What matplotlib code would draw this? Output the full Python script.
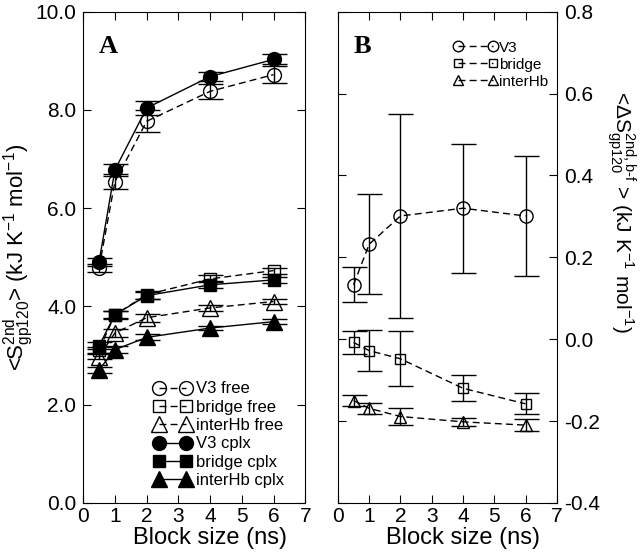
import matplotlib.pyplot as plt
from matplotlib.ticker import FormatStrFormatter

plt.rcParams['font.family'] = ['Liberation Sans', 'DejaVu Sans']
plt.rcParams['mathtext.fontset'] = 'custom'
plt.rcParams['mathtext.rm'] = 'Liberation Sans'
plt.rcParams['mathtext.it'] = 'Liberation Sans:italic'

# block sizes (ns)
block = [0.5, 1, 2, 4, 6]

# panel A: entropies (kJ K-1 mol-1)
v3_free = [4.79, 6.54, 7.77, 8.38, 8.72]
v3_free_err = [0.08, 0.15, 0.22, 0.15, 0.17]
bridge_free = [3.12, 3.83, 4.24, 4.56, 4.73]
bridge_free_err = [0.06, 0.08, 0.08, 0.07, 0.06]
inter_free = [2.98, 3.46, 3.77, 3.97, 4.10]
inter_free_err = [0.06, 0.08, 0.08, 0.06, 0.06]
v3_cplx = [4.91, 6.78, 8.04, 8.68, 9.03]
v3_cplx_err = [0.08, 0.12, 0.14, 0.10, 0.10]
bridge_cplx = [3.20, 3.83, 4.22, 4.44, 4.54]
bridge_cplx_err = [0.07, 0.07, 0.07, 0.07, 0.06]
inter_cplx = [2.71, 3.12, 3.37, 3.56, 3.69]
inter_cplx_err = [0.06, 0.07, 0.06, 0.05, 0.05]

# panel B: bound minus free differences
v3_diff = [0.133, 0.232, 0.301, 0.320, 0.301]
v3_diff_err = [0.043, 0.122, 0.250, 0.158, 0.146]
bridge_diff = [-0.008, -0.028, -0.048, -0.120, -0.158]
bridge_diff_err = [0.028, 0.050, 0.067, 0.032, 0.026]
inter_diff = [-0.150, -0.169, -0.189, -0.202, -0.210]
inter_diff_err = [0.013, 0.013, 0.020, 0.010, 0.015]

fig = plt.figure(figsize=(6.4, 5.6), dpi=100)
axA = fig.add_axes([0.130, 0.102, 0.347, 0.877])
axB = fig.add_axes([0.528, 0.102, 0.342, 0.877])

dash = (0, (5, 3))
eb = dict(fmt='none', ecolor='black', elinewidth=1.0, capsize=9, capthick=1.0)


def series(ax, y, err, marker, filled, ls, label, ms):
    ax.errorbar(block, y, yerr=err, **eb)
    ax.plot(block, y, color='black', linestyle=ls, linewidth=1.0,
            marker=marker, markersize=ms, markeredgewidth=1.0,
            markerfacecolor='black' if filled else 'none',
            markeredgecolor='black', label=label)


series(axA, v3_free, v3_free_err, 'o', False, dash, 'V3 free', 10)
series(axA, bridge_free, bridge_free_err, 's', False, dash, 'bridge free', 8.5)
series(axA, inter_free, inter_free_err, '^', False, dash, 'interHb free', 11)
series(axA, v3_cplx, v3_cplx_err, 'o', True, '-', 'V3 cplx', 10)
series(axA, bridge_cplx, bridge_cplx_err, 's', True, '-', 'bridge cplx', 8.5)
series(axA, inter_cplx, inter_cplx_err, '^', True, '-', 'interHb cplx', 11)

series(axB, v3_diff, v3_diff_err, 'o', False, dash, 'V3', 9.5)
series(axB, bridge_diff, bridge_diff_err, 's', False, dash, 'bridge', 7)
series(axB, inter_diff, inter_diff_err, '^', False, dash, 'interHb', 9)

for ax in (axA, axB):
    ax.set_xlim(0, 7)
    ax.set_xticks(range(8))
    ax.tick_params(direction='in', top=True, right=True, length=6,
                   labelsize=15, pad=3)
    ax.set_xlabel('Block size (ns)', fontsize=17)
    ax.xaxis.set_label_coords(0.57, -0.05)
    ax.yaxis.set_major_formatter(FormatStrFormatter('%.1f'))
axA.tick_params(axis='y', pad=5)
axB.tick_params(axis='y', pad=5)

axA.set_ylim(0, 10)
axA.set_yticks([0, 2, 4, 6, 8, 10])
axA.set_ylabel(r'<S$_{\mathrm{gp120}}^{\mathrm{2nd}}$> (kJ K$^{\mathrm{-1}}$ mol$^{\mathrm{-1}}$)',
               fontsize=16)
axA.yaxis.set_label_coords(-0.216, 0.5)

axB.set_ylim(-0.4, 0.8)
axB.set_yticks([-0.4, -0.2, 0.0, 0.2, 0.4, 0.6, 0.8])
axB.tick_params(labelleft=False, labelright=True)
axB.yaxis.set_label_position('right')
axB.set_ylabel(r'<$\Delta$S$_{\mathrm{gp120}}^{\mathrm{2nd,b\text{-}f}}$ > (kJ K$^{\mathrm{-1}}$ mol$^{\mathrm{-1}}$)',
               fontsize=15, rotation=270, va='bottom')
axB.yaxis.set_label_coords(1.215, 0.593)

axA.text(0.07, 0.93, 'A', transform=axA.transAxes, fontsize=19,
         fontweight='bold', family='Liberation Serif', va='center')
axB.text(0.07, 0.93, 'B', transform=axB.transAxes, fontsize=19,
         fontweight='bold', family='Liberation Serif', va='center')

axA.legend(loc='lower right', bbox_to_anchor=(0.905, 0.03), frameon=False,
           fontsize=12, numpoints=2, handlelength=2.2, handletextpad=0.3,
           labelspacing=0.2, borderaxespad=0, borderpad=0)
axB.legend(loc='upper right', bbox_to_anchor=(0.962, 0.941), frameon=False,
           fontsize=11, numpoints=2, handlelength=2.9, handletextpad=0.1,
           labelspacing=0.2, borderaxespad=0, borderpad=0, markerscale=0.8)

plt.savefig('out.png', dpi=100)
